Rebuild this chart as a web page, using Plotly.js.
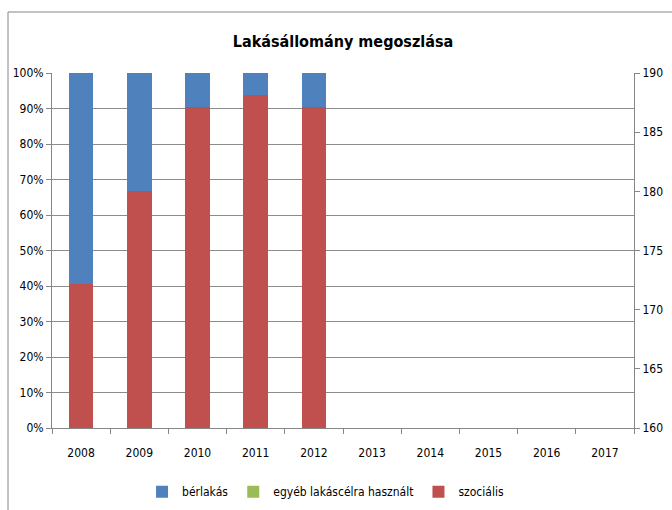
<!DOCTYPE html>
<html><head><meta charset="utf-8">
<script src="https://cdn.plot.ly/plotly-3.0.1.min.js"></script>
<style>body{margin:0}#c{width:672px;height:510px}</style>
</head><body><div id="c"></div>
<script>
const years = ['2008','2009','2010','2011','2012','2013','2014','2015','2016','2017'];
const berlakas = [59.5, 33.3, 9.6, 6.2, 9.6, null, null, null, null, null];
const egyeb = [0, 0, 0, 0, 0, null, null, null, null, null];
const szocialis = [40.5, 66.7, 90.4, 93.8, 90.4, null, null, null, null, null];
const rightTicks = [160,165,170,175,180,185,190];

const F = '"DejaVu Sans Condensed", "Liberation Sans Narrow", "Open Sans", sans-serif';
const traces = [
  {type:'bar', name:'szociális', x:years, y:szocialis, marker:{color:'#c0504d'}, showlegend:false, legendgroup:'s'},
  {type:'bar', name:'egyéb lakáscélra használt', x:years, y:egyeb, marker:{color:'#9bbb59'}, showlegend:false, legendgroup:'e'},
  {type:'bar', name:'bérlakás', x:years, y:berlakas, marker:{color:'#4f81bd'}, showlegend:false, legendgroup:'b'},
  {type:'bar', name:'bérlakás', x:[null], y:[null], marker:{color:'#4f81bd'}, legendgroup:'b'},
  {type:'bar', name:'egyéb lakáscélra használt', x:[null], y:[null], marker:{color:'#9bbb59'}, legendgroup:'e'},
  {type:'bar', name:'szociális', x:[null], y:[null], marker:{color:'#c0504d'}, legendgroup:'s'},
  {type:'scatter', x:years, y:years.map(()=>null), yaxis:'y2', showlegend:false, hoverinfo:'skip'}
];
const layout = {
  width:672, height:510,
  margin:{l:52, r:38, t:73, b:82},
  paper_bgcolor:'#fff', plot_bgcolor:'#fff',
  barmode:'stack', bargap:0.58,
  font:{family:F, size:12, color:'#000'},
  title:{text:'<b>Lakásállomány megoszlása</b>', font:{family:F, size:16, color:'#000'}, x:0.5, xref:'paper', y:0.918, yanchor:'middle'},
  xaxis:{type:'category', categoryorder:'array', categoryarray:years, range:[-0.5,9.5],
    showline:true, linecolor:'#868686', linewidth:1, ticks:'outside', ticklen:5, tickcolor:'#868686',
    tickson:'boundaries', showgrid:false, tickfont:{family:F,size:12}, zeroline:false, ticklabelstandoff:14, automargin:false},
  yaxis:{range:[0,100], tickvals:[0,10,20,30,40,50,60,70,80,90,100],
    ticktext:['0%','10%','20%','30%','40%','50%','60%','70%','80%','90%','100%'],
    showline:true, linecolor:'#868686', ticks:'outside', ticklen:5, tickcolor:'#868686',
    showgrid:true, gridcolor:'#8c8c8c', gridwidth:1, zeroline:false, tickfont:{family:F,size:12}},
  yaxis2:{overlaying:'y', side:'right', range:[160,190], tickvals:rightTicks,
    showline:true, linecolor:'#868686', ticks:'outside', ticklen:5, tickcolor:'#868686',
    showgrid:false, zeroline:false, tickfont:{family:F,size:12}},
  legend:{orientation:'h', x:0.47, xanchor:'center', yref:'container', y:0.036, yanchor:'middle',
    font:{family:F,size:12}, traceorder:'normal', itemwidth:30},
  shapes:[{type:'rect', xref:'paper', yref:'paper', x0:-0.0756, x1:1.2, y0:-0.3, y1:1.1718,
    line:{color:'#868686', width:1}, fillcolor:'rgba(0,0,0,0)', layer:'below'}]
};
Plotly.newPlot('c', traces, layout, {displayModeBar:false});
</script></body></html>
